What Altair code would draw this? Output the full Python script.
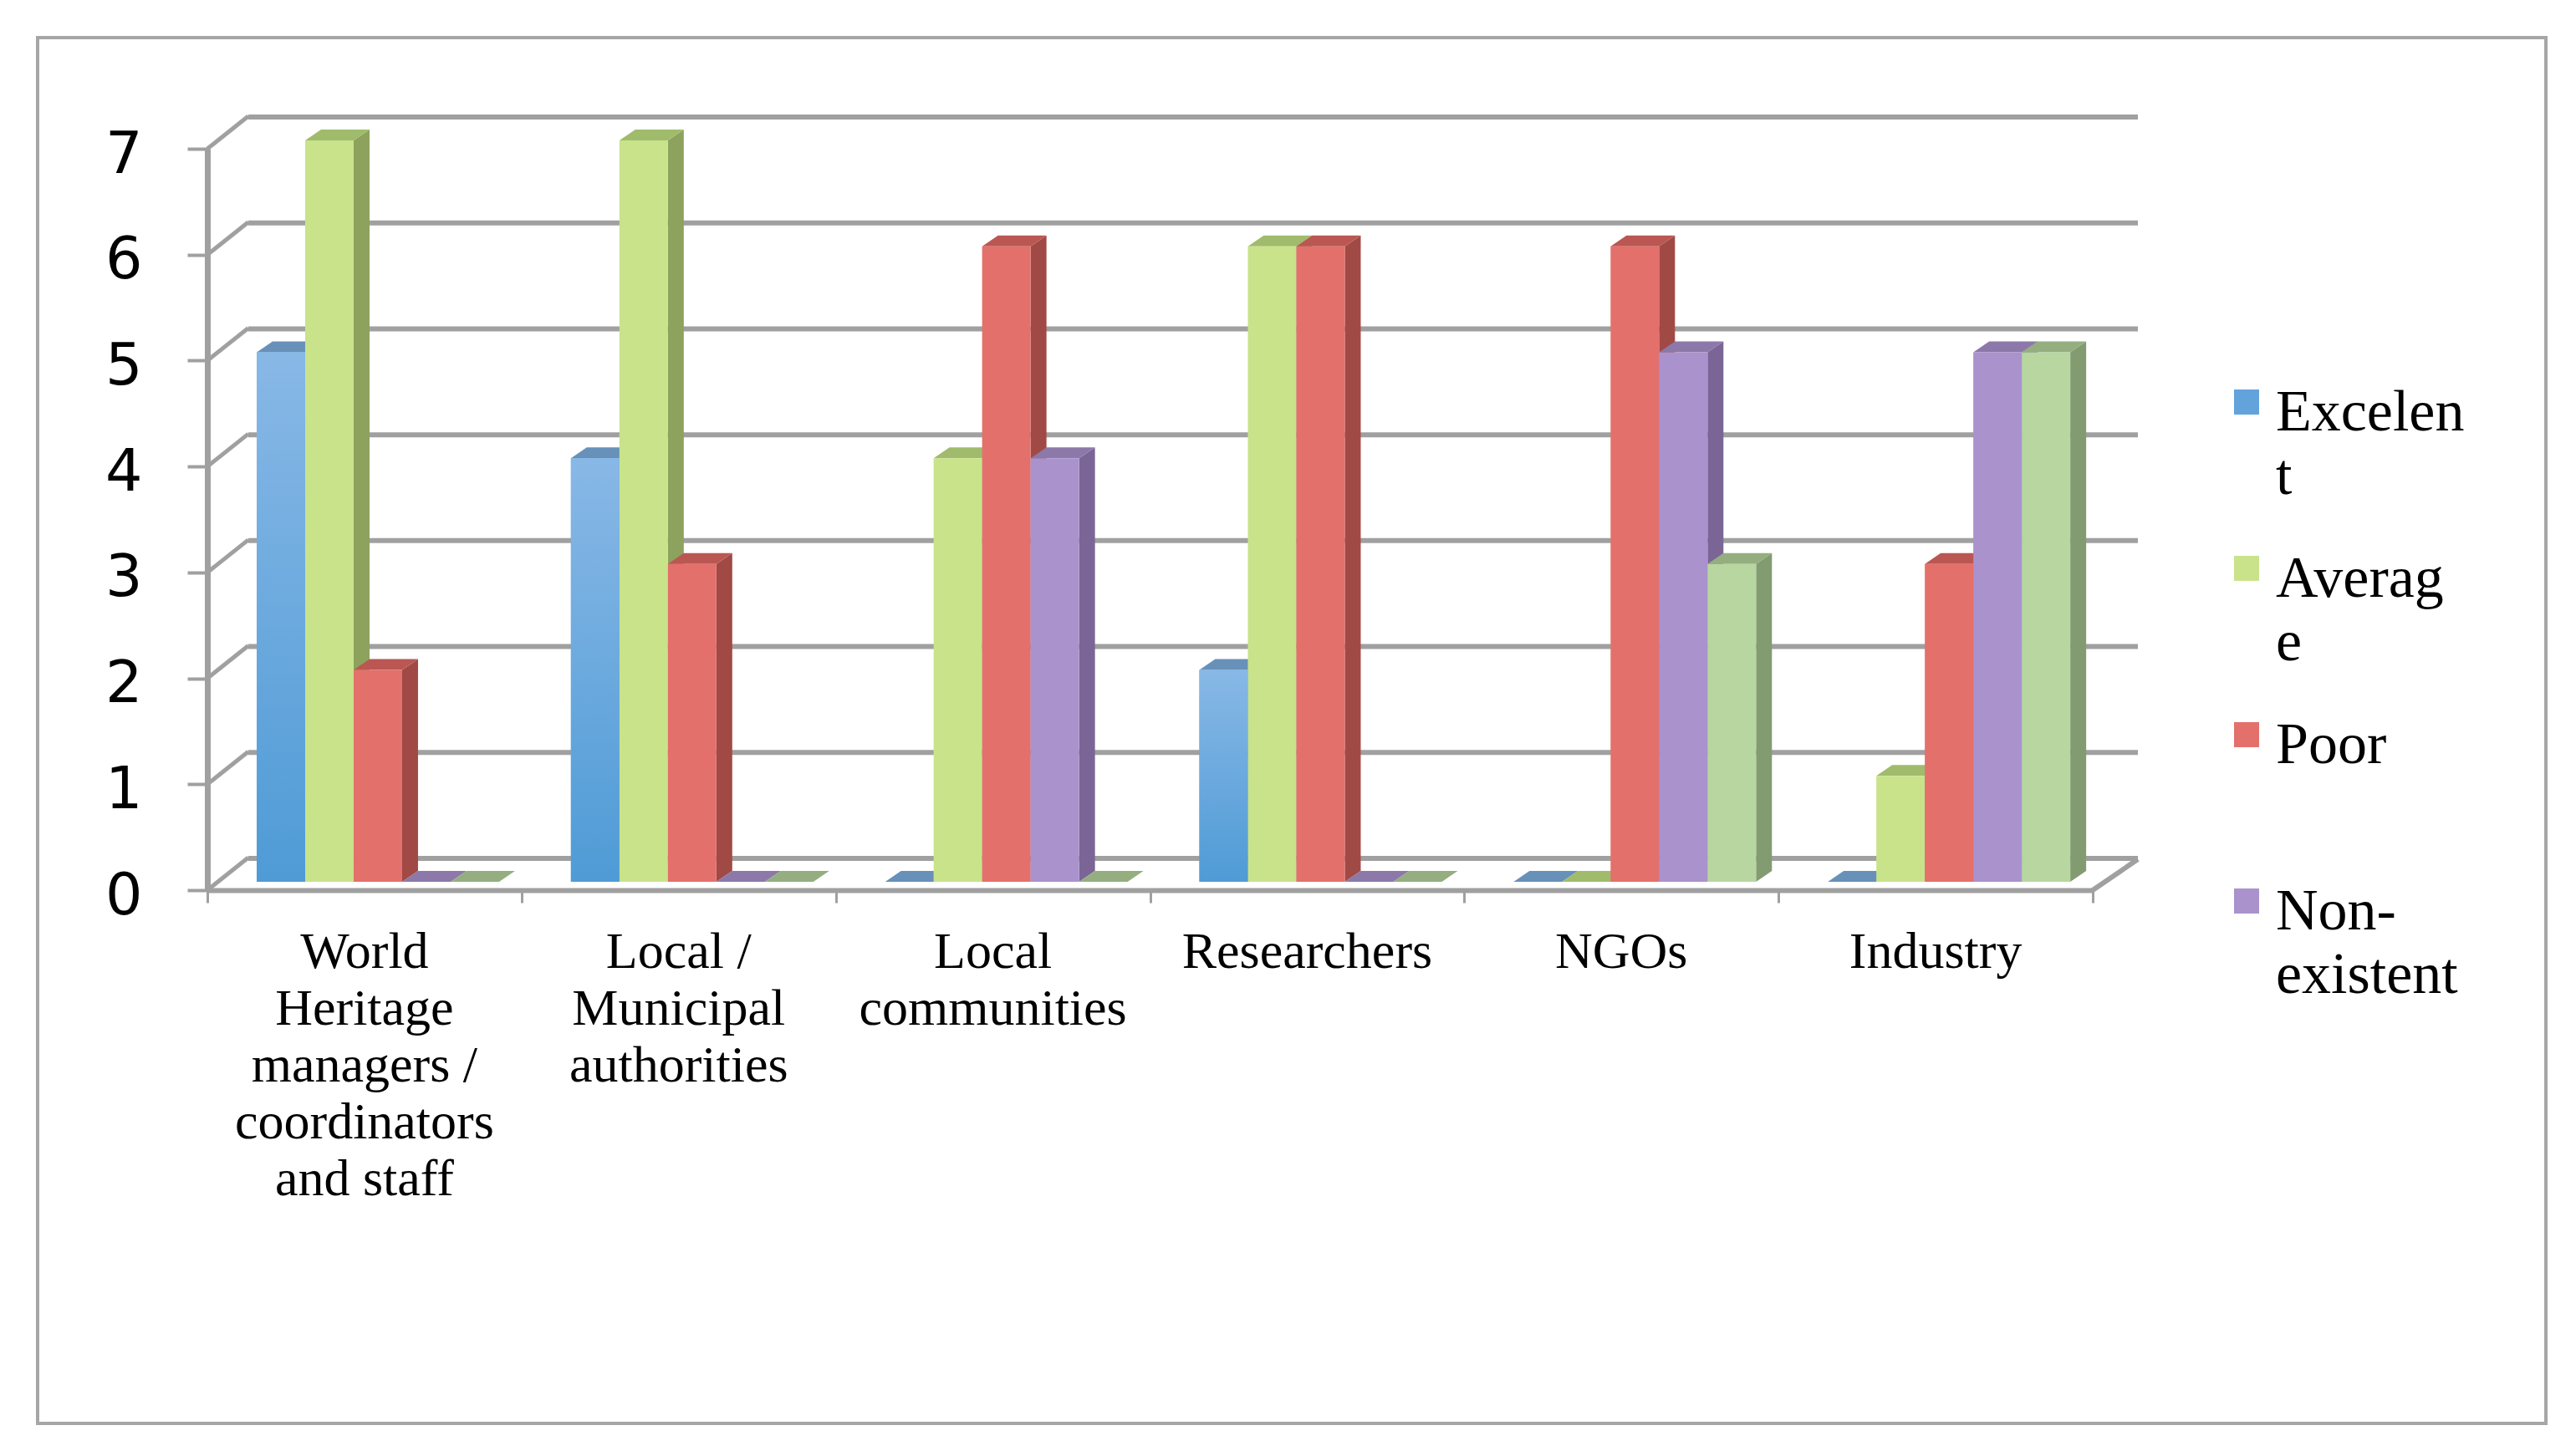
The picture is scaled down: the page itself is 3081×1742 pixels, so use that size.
import json
import altair as alt
import pandas as pd

# ---------------- data ----------------
categories = [
    "World Heritage managers / coordinators and staff",
    "Local / Municipal authorities",
    "Local communities",
    "Researchers",
    "NGOs",
    "Industry",
]
category_lines = [
    ["World", "Heritage", "managers /", "coordinators", "and staff"],
    ["Local /", "Municipal", "authorities"],
    ["Local", "communities"],
    ["Researchers"],
    ["NGOs"],
    ["Industry"],
]
series = ["Excelent", "Average", "Poor", "Non-existent", "Other"]
legend_series = ["Excelent", "Average", "Poor", "Non-existent"]
legend_lines = {
    "Excelent": ["Excelen", "t"],
    "Average": ["Averag", "e"],
    "Poor": ["Poor", " "],
    "Non-existent": ["Non-", "existent"],
}
excelent = [5, 4, 0, 2, 0, 0]
average = [7, 7, 4, 6, 0, 1]
poor = [2, 3, 6, 6, 6, 3]
non_existent = [0, 0, 4, 0, 5, 5]
other = [0, 0, 0, 0, 3, 5]
y_ticks = [0, 1, 2, 3, 4, 5, 6, 7]

front_colors = ["#62A3DC", "#C9E38B", "#E4706B", "#AA92CD", "#B8D6A0"]
side_colors = ["#4F7FAE", "#8DA25C", "#A14A45", "#7B6597", "#839B70"]
top_colors = ["#6891BA", "#A0BB6B", "#BA5752", "#8C78A9", "#94AE80"]
GRID = "#A0A0A0"

# ---------------- layout ----------------
W, H = 2255, 887
PAD_L, PAD_T = 240, 170
CANVAS_W, CANVAS_H = 3060, 1720
PAD_R = CANVAS_W - PAD_L - W
PAD_B = CANVAS_H - PAD_T - H

n_cat = len(categories)
band_px = W / n_cat
unit_px = H / 7
START = 0.157
BAR_W = 0.1543
DX = 19 / band_px
DY = 13 / unit_px

values = [excelent, average, poor, non_existent, other]
front_rows, side_rows, top_rows = [], [], []
for i, cat in enumerate(categories):
    for j, s in enumerate(series):
        v = values[j][i]
        xl = i + START + j * BAR_W
        xr = xl + BAR_W
        bid = f"{i}-{j}"
        front_rows.append(dict(series=s, xl=xl, xr=xr, v=v, base=0))
        sc = side_colors[j]
        side_rows += [
            dict(bid=bid, c=sc, x=xr, lo=0, hi=v),
            dict(bid=bid, c=sc, x=xr + DX, lo=DY, hi=v + DY),
        ]
        tc = top_colors[j]
        top_rows += [
            dict(bid=bid, c=tc, x=xl, lo=v, hi=v),
            dict(bid=bid, c=tc, x=xl + DX, lo=v, hi=v + DY),
            dict(bid=bid, c=tc, x=xr, lo=v, hi=v + DY),
            dict(bid=bid, c=tc, x=xr + DX, lo=v + DY, hi=v + DY),
        ]

df_front = pd.DataFrame(front_rows)
df_side = pd.DataFrame(side_rows)
df_top = pd.DataFrame(top_rows)
df_grid = pd.DataFrame({"v": y_ticks, "x0": 0, "x1": n_cat})
df_floor = pd.DataFrame({"v": [0], "x0": [n_cat]})
df_labels = pd.DataFrame({
    "x": [i + 0.5 for i in range(n_cat)],
    "base": 0,
    "text": ["\n".join(l) for l in category_lines],
})
df_one = pd.DataFrame({"a": [0]})

xs = alt.Scale(domain=[0, n_cat], nice=False, zero=False)
ys = alt.Scale(domain=[0, 7], nice=False, zero=True)

LEGEND_DY = 13
xaxis = alt.Axis(title=None, values=list(range(n_cat + 1)), labels=False, grid=False,
                 tickSize=15, tickWidth=3, tickColor=GRID, domainColor=GRID, domainWidth=6)
yaxis = alt.Axis(title=None, values=y_ticks, grid=False, tickSize=24, tickWidth=4,
                 tickColor=GRID, domainColor=GRID, domainWidth=7,
                 labelFont="DejaVu Sans", labelFontSize=70, labelColor="black",
                 labelPadding=54, labelOffset=7 - LEGEND_DY)

label_expr = " : ".join(
    f"datum.label == '{k}' ? {json.dumps(v)}" for k, v in legend_lines.items()
) + " : datum.label"

# ---------------- layers ----------------
border = alt.Chart(df_one).mark_rect(fillOpacity=0, stroke="#A6A6A6", strokeWidth=4).encode(
    x=alt.value(-203), x2=alt.value(2797), y=alt.value(-133), y2=alt.value(1525)
)

grid = alt.Chart(df_grid).mark_rule(color=GRID, strokeWidth=6, xOffset=49, x2Offset=54, yOffset=-38).encode(
    x=alt.X("x0:Q", scale=xs, axis=xaxis), x2="x1:Q",
    y=alt.Y("v:Q", scale=ys, axis=yaxis),
)

diag = alt.Chart(df_grid).mark_rule(color=GRID, strokeWidth=5, x2Offset=49, y2Offset=-39).encode(
    x=alt.X("x0:Q", scale=xs, axis=xaxis), x2="x0:Q",
    y=alt.Y("v:Q", scale=ys, axis=yaxis), y2="v:Q",
)

floor_diag = alt.Chart(df_floor).mark_rule(color=GRID, strokeWidth=6, x2Offset=54, y2Offset=-37).encode(
    x=alt.X("x0:Q", scale=xs, axis=xaxis), x2="x0:Q",
    y=alt.Y("v:Q", scale=ys, axis=yaxis), y2="v:Q",
)

sides = alt.Chart(df_side).mark_area(orient="vertical", yOffset=-10, y2Offset=-10).encode(
    x=alt.X("x:Q", scale=xs, axis=xaxis),
    y=alt.Y("lo:Q", scale=ys, axis=yaxis), y2="hi:Q",
    fill=alt.Fill("c:N", scale=None),
    detail="bid:N",
)

tops = alt.Chart(df_top).mark_area(orient="vertical", yOffset=-10, y2Offset=-10).encode(
    x=alt.X("x:Q", scale=xs, axis=xaxis),
    y=alt.Y("lo:Q", scale=ys, axis=yaxis), y2="hi:Q",
    fill=alt.Fill("c:N", scale=None),
    detail="bid:N",
)

fronts = alt.Chart(df_front).mark_rect(yOffset=-10, y2Offset=-10).encode(
    x=alt.X("xl:Q", scale=xs, axis=xaxis), x2="xr:Q",
    y=alt.Y("v:Q", scale=ys, axis=yaxis), y2="base:Q",
    color=alt.Color(
        "series:N",
        scale=alt.Scale(domain=series, range=front_colors),
        legend=alt.Legend(
            title=None, values=legend_series, orient="none", legendX=2404, legendY=268,
            padding=0, symbolType="square", symbolSize=900, symbolStrokeWidth=0,
            labelFont="Liberation Serif", labelFontSize=70, labelColor="black",
            labelLimit=0, labelOffset=0, rowPadding=40, labelExpr=label_expr,
        ),
    ),
)

blue = alt.Chart(df_front).transform_filter(alt.datum.series == series[0]).mark_rect(
    yOffset=-10, y2Offset=-10,
    fill={"gradient": "linear", "x1": 0, "y1": 0, "x2": 0, "y2": 1,
          "stops": [{"offset": 0, "color": "#88B8E6"}, {"offset": 1, "color": "#4F9BD6"}]},
).encode(
    x=alt.X("xl:Q", scale=xs, axis=xaxis), x2="xr:Q",
    y=alt.Y("v:Q", scale=ys, axis=yaxis), y2="base:Q",
)

labels = alt.Chart(df_labels).mark_text(
    font="Liberation Serif", fontSize=62, lineBreak="\n", lineHeight=68, dy=93,
    baseline="alphabetic", align="center", color="black",
).encode(
    x=alt.X("x:Q", scale=xs, axis=xaxis),
    y=alt.Y("base:Q", scale=ys, axis=yaxis),
    text="text:N",
)

chart = alt.layer(border, grid, diag, floor_diag, sides, tops, fronts, blue, labels).properties(
    width=W, height=H,
    autosize=alt.AutoSizeParams(type="none"),
    padding={"left": PAD_L, "top": PAD_T, "right": PAD_R, "bottom": PAD_B},
    background="white",
).configure(
    view=alt.ViewConfig(strokeWidth=0),
    style={"guide-label": {"dy": LEGEND_DY, "lineHeight": 76}},
)

chart.save("out.html", embed_options={"renderer": "svg", "actions": False})
